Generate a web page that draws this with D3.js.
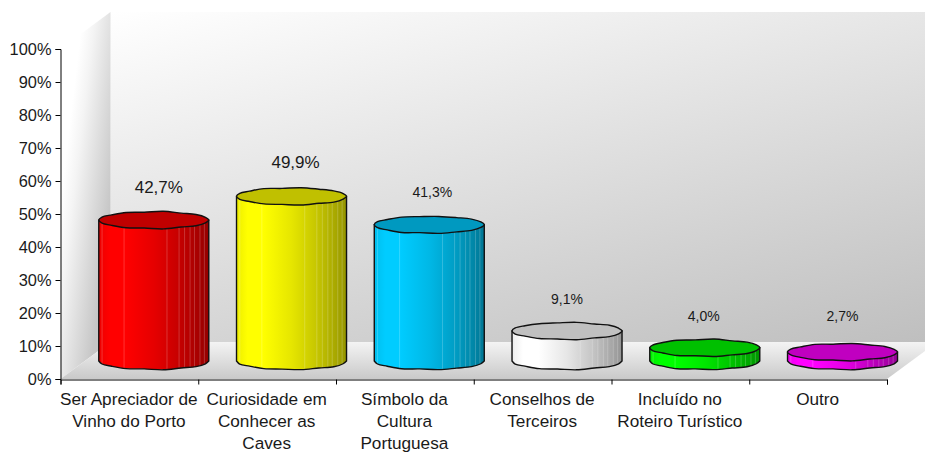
<!DOCTYPE html>
<html><head><meta charset="utf-8">
<script src="https://cdnjs.cloudflare.com/ajax/libs/d3/7.8.5/d3.min.js"></script>
<style>html,body{margin:0;padding:0;background:#fff}svg{display:block}text{font-family:"Liberation Sans",Arial,sans-serif;fill:#1a1a1a}</style>
</head><body><svg id="c" width="925" height="453"></svg>
<script>
const categories=[["Ser Apreciador de","Vinho do Porto"],["Curiosidade em","Conhecer as","Caves"],["Símbolo da","Cultura","Portuguesa"],["Conselhos de","Terceiros"],["Incluído no","Roteiro Turístico"],["Outro"]];
const values=[42.7,49.9,41.3,9.1,4.0,2.7];
const valueLabels=["42,7%","49,9%","41,3%","9,1%","4,0%","2,7%"];
const sideColors=["#ff0000","#ffff00","#00ccff","#ffffff","#00ff00","#ff00ff"];
const topColors=["#c00000","#c0c000","#0099c0","#c0c0c0","#00c000","#c000c0"];
const yTicks=[0,10,20,30,40,50,60,70,80,90,100];

// layout constants
const W=925,H=453,x0=60.5,x1=887,y0=379,y100=49,depthX=50,depthY=37;
const labelSize=[17,17,14,14,14,14],labelDx=[5,4,3,0,-1,0],labelDy=[-27,-28,-28,-27,-27,-31];
const wobble=[1,.99,1.02,.98,1.03,.98,1.02,.99,1.02,.98,1.03,.985,1.02,.98,1.03,.98,1.02,.99];
const stripes=[.03,.23,.62,.73,.78,.83,.87,.92,.96];
const rx=55,ry=8.4;

const y=d3.scaleLinear().domain([0,100]).range([y0,y100]);
const xi=d3.scaleLinear().domain([0,categories.length]).range([x0,x1]);
const svg=d3.select("#c"),defs=svg.append("defs");

function lg(id,x1_,y1_,x2_,y2_,stops){
  const g=defs.append("linearGradient").attr("id",id).attr("gradientUnits","userSpaceOnUse")
    .attr("x1",x1_).attr("y1",y1_).attr("x2",x2_).attr("y2",y2_);
  stops.forEach(s=>g.append("stop").attr("offset",s[0]).attr("stop-color",s[1]));
}
const backTop=y100-depthY,backBottom=y0-depthY,backLeft=x0+depthX;
lg("wall",backLeft,backTop,backLeft+131,backTop+524,[[0,"#ffffff"],[1,"#bcbcbc"]]);
lg("left",x0,200,backLeft,206,[[0,"#ffffff"],[.25,"#f4f4f4"],[1,"#c6c6c6"]]);
lg("floor",480,backBottom-2,480,y0+3,[[0,"#f6f6f6"],[1,"#c6c6c6"]]);

const line=d3.line();
svg.append("path").attr("fill","url(#wall)").attr("d",line([[backLeft,backTop],[W,backTop],[W,backBottom],[backLeft,backBottom]])+"Z");
svg.append("path").attr("fill","url(#left)").attr("d",line([[x0,y100],[backLeft,backTop],[backLeft,backBottom],[x0,y0]])+"Z");
svg.append("path").attr("fill","url(#floor)").attr("d",line([[x0,y0],[backLeft,backBottom],[x1+depthX,backBottom],[x1,y0]])+"Z");

// axes
const ya=d3.axisLeft(y).tickValues(yTicks).tickSize(5).tickPadding(4).tickFormat(d=>d+"%");
const gy=svg.append("g").attr("transform",`translate(${x0},0)`).call(ya);
gy.selectAll("text").style("font-size","16.4px").attr("dy","0.36em");
const xa=d3.axisBottom(xi).tickValues(d3.range(categories.length+1)).tickSize(5).tickFormat("");
const gx=svg.append("g").attr("transform",`translate(0,${y0+.5})`).call(xa);
svg.selectAll(".domain").attr("stroke","#000");
svg.selectAll(".tick line").attr("stroke","#000");

// category labels
const cat=svg.append("g").selectAll("text").data(categories).join("text")
  .attr("text-anchor","middle").style("font-size","17.2px");
cat.each(function(d,i){
  const t=d3.select(this);
  d.forEach((s,k)=>t.append("tspan").attr("x",xi(i+.5)-.5).attr("y",404.5+k*22.3).text(s));
});

// cylinders
function ring(cx,cy,i0,i1,seed){
  const n=wobble.length,pts=[];
  for(let k=i0;k<=i1;k++){
    const a=k/n*2*Math.PI,w=wobble[(k+seed)%n],edge=Math.abs(Math.sin(a));
    const wy=1+(w-1)*2.2;
    pts.push([cx+rx*Math.cos(a)*(1+(w-1)*.25*edge),cy+ry*Math.sin(a)*wy]);
  }
  return pts;
}
const smooth=d3.line().curve(d3.curveCatmullRom.alpha(.5));
const smoothClosed=d3.line().curve(d3.curveCatmullRomClosed.alpha(.5));
const n=wobble.length;
values.forEach((v,i)=>{
  const cx=xi(i+.5)+depthX/2-.6,cb=y(0)-18,ct=cb-(y(0)-y(v));
  const c=f=>{const q=d3.rgb(sideColors[i]);return d3.rgb(q.r*f,q.g*f,q.b*f).formatHex();};
  const id="g"+i;
  lg(id,cx-rx,0,cx+rx,0,[[0,c(.93)],[.1,c(1)],[.24,c(1)],[.5,c(.9)],[.72,c(.78)],[.9,c(.66)],[1,c(.58)]]);
  const bottom=ring(cx,cb,0,n/2,i*2).reverse();        // left to right along the front edge
  const front=smooth(bottom);
  const d=`M${cx-rx},${ct}L${cx-rx},${cb}`+front.replace(/^M[^C]*/,"")+`L${cx+rx},${ct}Z`;
  defs.append("clipPath").attr("id","cl"+i).append("path").attr("d",d);
  const g=svg.append("g");
  g.append("path").attr("d",d).attr("fill",`url(#${id})`);
  g.append("g").attr("clip-path",`url(#cl${i})`).selectAll("line").data(stripes).join("line")
    .attr("x1",f=>cx-rx+f*2*rx).attr("x2",f=>cx-rx+f*2*rx).attr("y1",ct-12).attr("y2",cb+12)
    .attr("stroke","#fff").attr("stroke-opacity",.2).attr("stroke-width",1);
  g.append("path").attr("d",d).attr("fill","none").attr("stroke","#111").attr("stroke-width",1.4);
  g.append("path").attr("d",smoothClosed(ring(cx,ct,0,n-1,i*2))).attr("fill",topColors[i]).attr("stroke","#111").attr("stroke-width",1.4);
  svg.append("text").attr("text-anchor","middle").style("font-size",labelSize[i]+"px")
    .attr("x",cx+labelDx[i]).attr("y",ct+labelDy[i]).text(valueLabels[i]);
});
</script></body></html>
